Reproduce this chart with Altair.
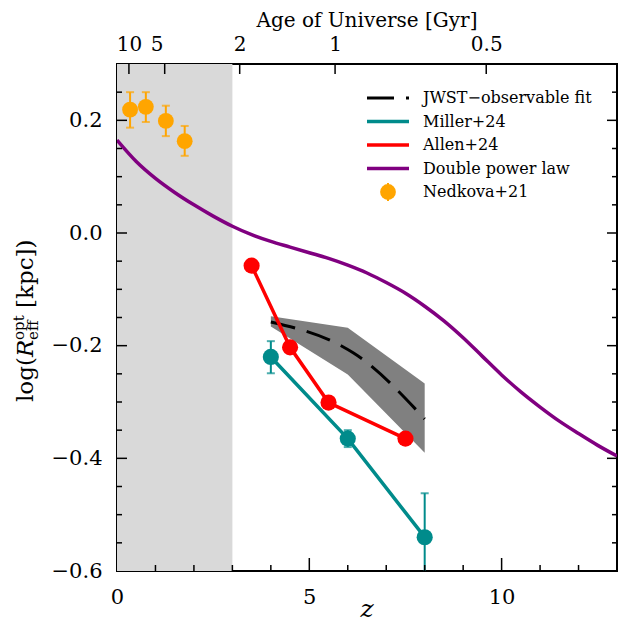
import json
import altair as alt
import pandas as pd

# ---------------- data ----------------
# Double power law (purple curve)
dpl_z = [0, 0.5, 1, 1.5, 2, 2.5, 3, 3.5, 4, 4.5, 5, 5.5, 6, 6.5, 7, 7.5, 8, 8.5,
         9, 9.5, 10, 10.5, 11, 11.5, 12, 12.5, 13]
dpl_y = [0.165, 0.127, 0.097, 0.072, 0.050, 0.030, 0.012, -0.003, -0.015, -0.025,
         -0.035, -0.045, -0.057, -0.071, -0.088, -0.107, -0.130, -0.156, -0.186,
         -0.219, -0.252, -0.282, -0.309, -0.334, -0.356, -0.377, -0.396]

# Nedkova+21 (orange points with error bars)
ned_z = [0.34, 0.75, 1.27, 1.76]
ned_y = [0.219, 0.224, 0.199, 0.163]
ned_lo = [0.187, 0.197, 0.172, 0.137]
ned_hi = [0.250, 0.250, 0.226, 0.190]

# Miller+24 (teal)
mil_z = [4.0, 6.0, 8.0]
mil_y = [-0.220, -0.365, -0.540]
mil_lo = [-0.249, -0.380, -0.650]
mil_hi = [-0.192, -0.350, -0.462]

# Allen+24 (red)
allen_z = [3.5, 4.5, 5.5, 7.5]
allen_y = [-0.058, -0.203, -0.301, -0.365]

# JWST-observable fit (dashed) and its band
jwst_z = [4.0, 5.85, 6.15, 8.0]
jwst_y = [-0.158, -0.201, -0.213, -0.330]
band_z = [4.0, 6.0, 8.0]
band_lo = [-0.166, -0.251, -0.390]
band_hi = [-0.148, -0.168, -0.267]

# shaded redshift range
shade_from = [0]
shade_to = [3]

# axes
x_labels = [0, 5, 10]
x_major = [5, 10]
x_minor = [1, 2, 3, 4, 6, 7, 8, 9, 11, 12]
y_labels = [-0.6, -0.4, -0.2, 0.0, 0.2]
y_major = [-0.4, -0.2, 0.0, 0.2]
y_minor = [-0.55, -0.5, -0.45, -0.35, -0.3, -0.25, -0.15, -0.1, -0.05,
           0.05, 0.1, 0.15, 0.25]
age_z = [0.31, 1.24, 3.19, 5.67, 9.6]
age_labels = ["10", "5", "2", "1", "0.5"]

# legend
leg_labels = ["JWST\u2212observable fit", "Miller+24", "Allen+24",
              "Double power law", "Nedkova+21"]
leg_colors = ["black", "#008b8b", "#ff0000", "#800080", "#ffa500"]

# ---------------- styling ----------------
W, H = 500, 507
FONT = "DejaVu Serif"
TEAL, RED, PURPLE, ORANGE = "#008b8b", "#ff0000", "#800080", "#ffa500"
xs = alt.Scale(domain=[0, 13], nice=False, zero=False)
ys = alt.Scale(domain=[-0.6, 0.3], nice=False, zero=False)


def X(field, axis=None):
    return alt.X(field, scale=xs, axis=axis)


def Y(field, axis=None):
    return alt.Y(field, scale=ys, axis=axis)


layers = []

# shaded region + bottom axis
bottom_axis = alt.Axis(orient="bottom", values=x_labels, format="d", ticks=False,
                       tickSize=0, domain=False, grid=False, labelFont=FONT,
                       labelFontSize=21, labelPadding=15, labelColor="black",
                       labelFlush=False, labelOverlap=False, title=None)
layers.append(
    alt.Chart(pd.DataFrame({"z0": shade_from, "z1": shade_to}))
    .mark_rect(color="#d9d9d9")
    .encode(x=X("z0:Q", bottom_axis), x2="z1:Q", y=alt.value(0), y2=alt.value(H))
)

# double power law + left axis
left_axis = alt.Axis(orient="left", values=y_labels, format=".1f", ticks=False,
                     tickSize=0, domain=False, grid=False, labelFont=FONT,
                     labelFontSize=21, labelPadding=15, labelColor="black",
                     labelOverlap=False, labelFlush=False, title=None)
layers.append(
    alt.Chart(pd.DataFrame({"z": dpl_z, "y": dpl_y}))
    .mark_line(color=PURPLE, strokeWidth=3.5, interpolate="monotone", clip=True)
    .encode(x=X("z:Q"), y=Y("y:Q", left_axis))
)

# JWST band and dashed fit
layers.append(
    alt.Chart(pd.DataFrame({"z": band_z, "lo": band_lo, "hi": band_hi}))
    .mark_area(color="#808080", opacity=1)
    .encode(x=X("z:Q"), y=Y("lo:Q"), y2="hi:Q")
)
layers.append(
    alt.Chart(pd.DataFrame({"z": jwst_z, "y": jwst_y}))
    .mark_line(color="black", strokeWidth=3, strokeDash=[25, 12],
               interpolate="monotone")
    .encode(x=X("z:Q"), y=Y("y:Q"))
)

# Miller+24
mil_df = pd.DataFrame({"z": mil_z, "y": mil_y, "lo": mil_lo, "hi": mil_hi})
layers.append(alt.Chart(mil_df).mark_line(color=TEAL, strokeWidth=3.5)
              .encode(x=X("z:Q"), y=Y("y:Q")))
layers.append(alt.Chart(mil_df).mark_rule(color=TEAL, strokeWidth=2, clip=True)
              .encode(x=X("z:Q"), y=Y("lo:Q"), y2="hi:Q"))
for col in ["lo", "hi"]:
    layers.append(alt.Chart(mil_df).mark_tick(color=TEAL, orient="horizontal",
                                              size=8, thickness=2, clip=True)
                  .encode(x=X("z:Q"), y=Y(f"{col}:Q")))
layers.append(alt.Chart(mil_df).mark_circle(color=TEAL, size=260, opacity=1)
              .encode(x=X("z:Q"), y=Y("y:Q")))

# Allen+24
allen_df = pd.DataFrame({"z": allen_z, "y": allen_y})
layers.append(alt.Chart(allen_df).mark_line(color=RED, strokeWidth=3.5)
              .encode(x=X("z:Q"), y=Y("y:Q")))
layers.append(alt.Chart(allen_df).mark_circle(color=RED, size=260, opacity=1)
              .encode(x=X("z:Q"), y=Y("y:Q")))

# Nedkova+21
ned_df = pd.DataFrame({"z": ned_z, "y": ned_y, "lo": ned_lo, "hi": ned_hi})
layers.append(alt.Chart(ned_df).mark_rule(color=ORANGE, strokeWidth=2)
              .encode(x=X("z:Q"), y=Y("lo:Q"), y2="hi:Q"))
for col in ["lo", "hi"]:
    layers.append(alt.Chart(ned_df).mark_tick(color=ORANGE, orient="horizontal",
                                              size=8, thickness=2)
                  .encode(x=X("z:Q"), y=Y(f"{col}:Q")))
layers.append(alt.Chart(ned_df).mark_circle(color=ORANGE, size=250, opacity=1)
              .encode(x=X("z:Q"), y=Y("y:Q")))

# inward ticks
TICK = dict(color="black", strokeWidth=1.5)
for vals, ln in [(y_major, 10), (y_minor, 5)]:
    d = pd.DataFrame({"v": vals})
    layers.append(alt.Chart(d).mark_rule(**TICK).encode(
        y=Y("v:Q"), x=alt.value(0), x2=alt.value(ln)))
    layers.append(alt.Chart(d).mark_rule(**TICK).encode(
        y=Y("v:Q"), x=alt.value(W), x2=alt.value(W - ln)))
for vals, ln in [(x_major, 13), (x_minor, 6)]:
    d = pd.DataFrame({"v": vals})
    layers.append(alt.Chart(d).mark_rule(**TICK).encode(
        x=X("v:Q"), y=alt.value(H), y2=alt.value(H - ln)))

# top axis (age of universe)
label_expr = f"{json.dumps(age_labels)}[indexof({json.dumps(age_z)}, datum.value)]"
top_axis = alt.Axis(orient="top", values=age_z, labelExpr=label_expr, ticks=False,
                    tickSize=0, domain=False, grid=False, labelFont=FONT,
                    labelFontSize=20, labelPadding=10, labelColor="black",
                    labelFlush=False, labelOverlap=False, title=None,
                    labelOffset={"condition": {"test": "datum.value == 1.24",
                                               "value": -8}, "value": 0})
layers.append(alt.Chart(pd.DataFrame({"v": age_z})).mark_rule(**TICK).encode(
    x=X("v:Q", top_axis), y=alt.value(0), y2=alt.value(10)))


# titles
def text_layer(txt, x, y, size, angle=0, style="normal", align="center",
               baseline="alphabetic"):
    kw = dict(font=FONT, fontSize=size, fontStyle=style, align=align,
              baseline=baseline, color="black")
    if angle:
        kw["angle"] = angle
    return alt.Chart(pd.DataFrame({"t": [txt]})).mark_text(**kw).encode(
        text="t:N", x=alt.value(x), y=alt.value(y))


layers.append(text_layer("Age of Universe [Gyr]", W / 2, -37, 20))
layers.append(text_layer("z", W / 2, H + 46, 25, style="italic"))

# y title pieces: log(R^opt_eff [kpc])
YX = -84
layers.append(text_layer("log(", YX, 338, 23, angle=270, align="left"))
layers.append(text_layer("R", YX, 293, 23, angle=270, align="left", style="italic"))
layers.append(text_layer("opt", YX - 9, 276, 15, angle=270, align="left"))
layers.append(text_layer("eff", YX + 5, 276, 15, angle=270, align="left"))
layers.append(text_layer("[kpc])", YX, 244, 23, angle=270, align="left"))

# legend
LX0, LX1, LTX = 250, 292, 306
for i, (lab, col) in enumerate(zip(leg_labels, leg_colors)):
    ly = 34 + 23.5 * i
    d = pd.DataFrame({"t": [lab]})
    if i < 4:
        mk = dict(color=col, strokeWidth=3.5)
        if i == 0:
            mk["strokeDash"] = [27, 12]
            mk["strokeWidth"] = 3
        layers.append(alt.Chart(d).mark_rule(**mk).encode(
            x=alt.value(LX0), x2=alt.value(LX1), y=alt.value(ly)))
    else:
        cx = (LX0 + LX1) / 2
        layers.append(alt.Chart(d).mark_rule(color=col, strokeWidth=2).encode(
            x=alt.value(cx), y=alt.value(ly - 9), y2=alt.value(ly + 9)))
        layers.append(alt.Chart(d).mark_circle(color=col, size=250, opacity=1).encode(
            x=alt.value(cx), y=alt.value(ly)))
    layers.append(alt.Chart(d).mark_text(font=FONT, fontSize=16, align="left",
                                         baseline="middle", color="black").encode(
        text="t:N", x=alt.value(LTX), y=alt.value(ly)))

chart = (
    alt.layer(*layers)
    .resolve_axis(x="independent", y="independent")
    .properties(width=W, height=H,
                autosize=alt.AutoSizeParams(type="none"),
                padding={"left": 109, "top": 56, "right": 1, "bottom": 53})
    .configure_view(stroke="black", strokeWidth=2)
)

chart.save("out.html", embed_options={"renderer": "svg", "actions": False})
